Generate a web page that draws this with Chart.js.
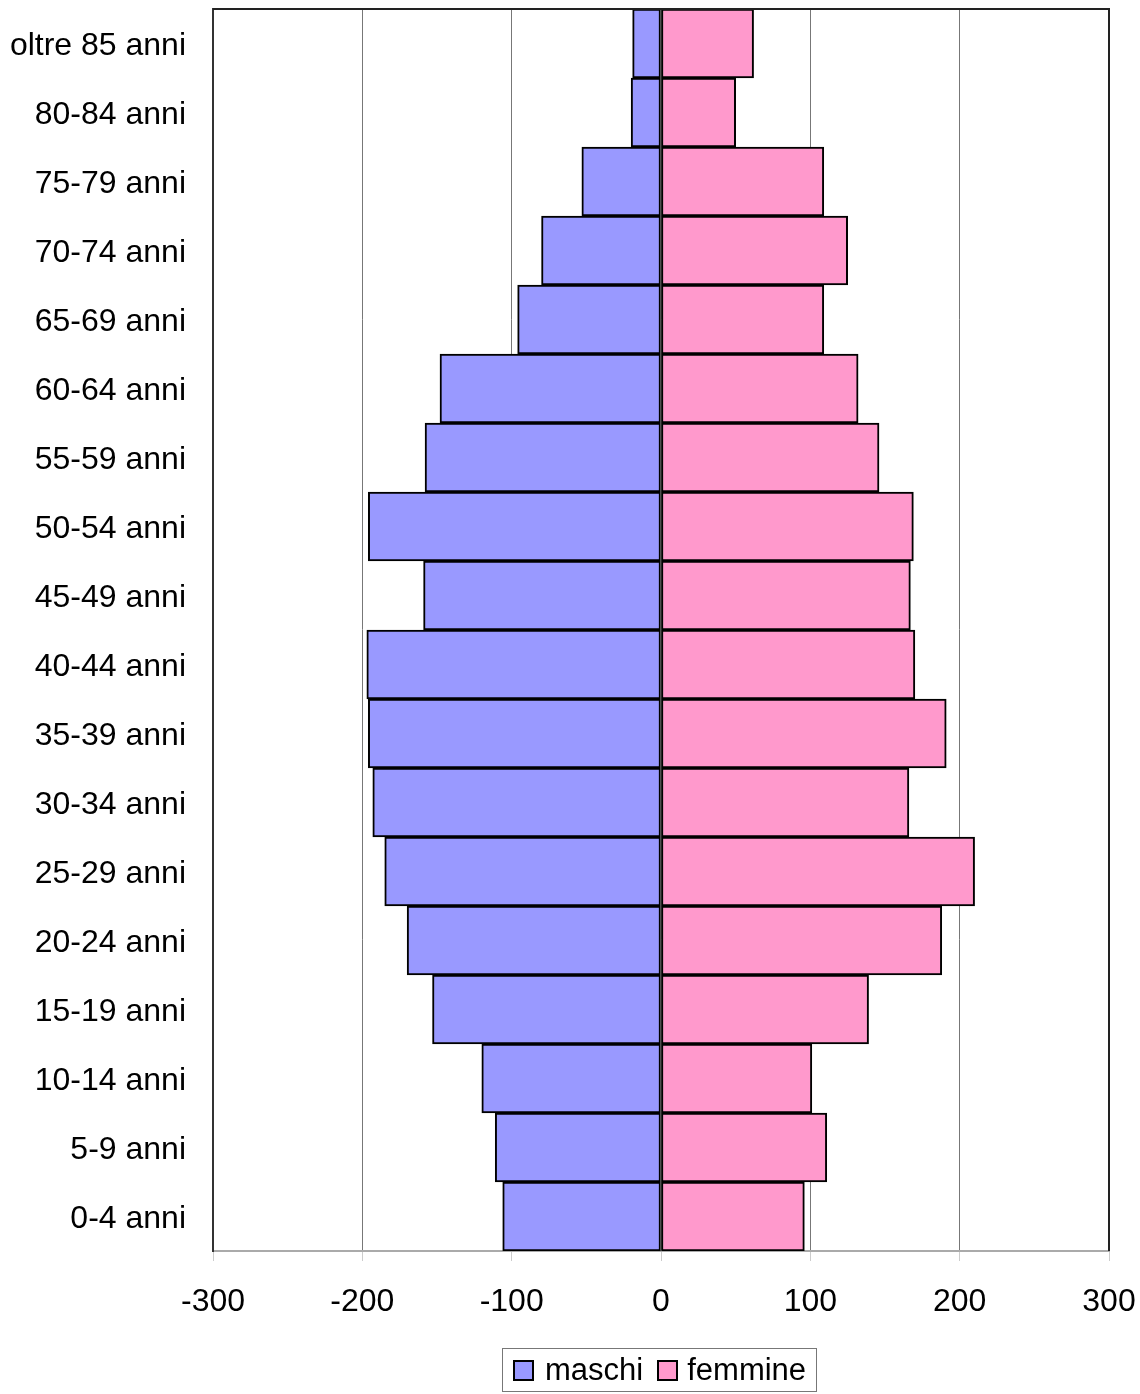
<!DOCTYPE html>
<html>
<head>
<meta charset="utf-8">
<script src="https://cdn.jsdelivr.net/npm/chart.js@4"></script>
<style>
  body { margin: 0; background: #fff; }
  #wrap { position: relative; width: 1140px; height: 1394px; }
  #legend {
    position: absolute; left: 502px; top: 1348px; width: 315px; height: 44px;
    border: 1px solid #777; box-sizing: border-box;
    font-family: "Liberation Sans", Arial, sans-serif; font-size: 31px; color: #000;
    display: flex; align-items: center;
  }
  .sw { width: 17px; height: 17px; border: 2px solid #000; display: inline-block; }
  .item { display: flex; align-items: center; }
</style>
</head>
<body>
<div id="wrap">
  <canvas id="pyramid" width="1140" height="1394"></canvas>
  <div id="legend">
    <span class="item" style="margin-left:10px"><span class="sw" style="background:#9999FF"></span><span style="margin-left:11px">maschi</span></span>
    <span class="item" style="margin-left:14px"><span class="sw" style="background:#FF99CC"></span><span style="margin-left:9px">femmine</span></span>
  </div>
</div>
<script>
// age classes, top to bottom
var ages = ["oltre 85 anni", "80-84 anni", "75-79 anni", "70-74 anni", "65-69 anni",
  "60-64 anni", "55-59 anni", "50-54 anni", "45-49 anni", "40-44 anni", "35-39 anni",
  "30-34 anni", "25-29 anni", "20-24 anni", "15-19 anni", "10-14 anni", "5-9 anni", "0-4 anni"];
var maschi = [-19, -20, -53, -80, -96, -148, -158, -196, -159, -197, -196, -193, -185, -170, -153, -120, -111, -106];
var femmine = [62, 50, 109, 125, 109, 132, 146, 169, 167, 170, 191, 166, 210, 188, 139, 101, 111, 96];
var xTicks = [-300, -200, -100, 0, 100, 200, 300];

var font = { family: "'Liberation Sans', Arial, sans-serif", size: 32 };

// frame on top/right of plot area
var frame = {
  id: 'frame',
  afterDraw: function(chart) {
    var a = chart.chartArea, c = chart.ctx;
    c.save();
    c.strokeStyle = '#222';
    c.lineWidth = 2;
    c.beginPath();
    c.moveTo(a.left, a.top);
    c.lineTo(a.right, a.top);
    c.lineTo(a.right, a.bottom);
    c.stroke();
    c.restore();
  }
};

function noPad(s) {
  s.paddingTop = 0; s.paddingBottom = 0; s.paddingLeft = 0; s.paddingRight = 0;
}

var ctx = document.getElementById("pyramid").getContext('2d');
var chart = new Chart(ctx, {
  type: 'bar',
  data: {
    labels: ages,
    datasets: [{
      label: "maschi",
      data: maschi,
      backgroundColor: "#9999FF",
      borderColor: "#000",
      borderWidth: 2,
      borderSkipped: false
    }, {
      label: "femmine",
      data: femmine,
      backgroundColor: "#FF99CC",
      borderColor: "#000",
      borderWidth: 2,
      borderSkipped: false
    }]
  },
  options: {
    indexAxis: 'y',
    responsive: false,
    animation: false,
    barPercentage: 1,
    categoryPercentage: 1,
    layout: { padding: { top: 9, right: 31, bottom: 83, left: 0 } },
    plugins: {
      legend: { display: false },
      tooltip: { enabled: false }
    },
    scales: {
      x: {
        stacked: true,
        min: -300,
        max: 300,
        afterBuildTicks: function(s) { s.ticks = xTicks.map(function(v) { return { value: v }; }); },
        afterFit: function(s) { s.height = 60; noPad(s); },
        ticks: { color: '#000', font: font, padding: 22, maxRotation: 0 },
        grid: { color: '#777', lineWidth: 1, tickColor: '#ccc', tickLength: 10 },
        border: { color: '#aaa', width: 2 }
      },
      y: {
        stacked: true,
        afterFit: function(s) { s.width = 213; noPad(s); },
        ticks: { color: '#000', font: font, padding: 27, labelOffset: 3 },
        grid: { display: false, drawTicks: false },
        border: { color: '#333', width: 2 }
      }
    }
  },
  plugins: [frame]
});
</script>
</body>
</html>
